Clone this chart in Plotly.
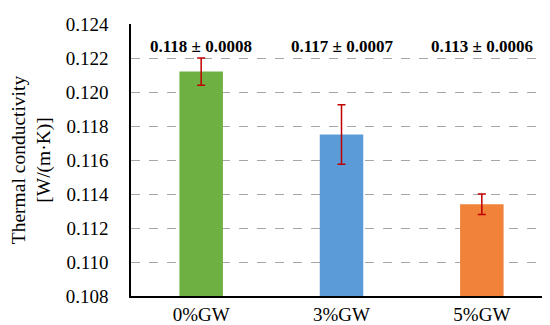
import plotly.graph_objects as go

categories = ["0%GW", "3%GW", "5%GW"]
values = [0.1212, 0.1175, 0.1134]
errors = [0.0008, 0.00175, 0.0006]
labels = ["0.118 ± 0.0008", "0.117 ± 0.0007", "0.113 ± 0.0006"]
colors = ["#6fb043", "#5b9bd8", "#f0823a"]
tick_vals = [0.108, 0.110, 0.112, 0.114, 0.116, 0.118, 0.120, 0.122, 0.124]

FONT = "Times New Roman, Liberation Serif, serif"

fig = go.Figure()
fig.add_trace(go.Bar(
    x=categories, y=values, width=0.31,
    marker=dict(color=colors, line=dict(width=0)),
    error_y=dict(type="data", array=errors, visible=True, color="#c00000", thickness=1.5, width=4),
))
for c, t in zip(categories, labels):
    fig.add_annotation(x=c, y=0.1227, text="<b>" + t + "</b>", showarrow=False,
                       font=dict(family=FONT, size=17, color="black"))

fig.update_layout(
    width=550, height=325,
    margin=dict(l=123, r=6, t=16, b=37),
    paper_bgcolor="white", plot_bgcolor="white",
    font=dict(family=FONT, size=19, color="black"),
    showlegend=False,
)
fig.update_xaxes(showline=True, linecolor="black", linewidth=1.5, ticks="",
                 tickfont=dict(family=FONT, size=19), automargin=False)
fig.update_yaxes(range=[0.108, 0.124], tickvals=tick_vals, tickformat=".3f",
                 showline=True, linecolor="black", linewidth=1.5,
                 showgrid=True, gridcolor="#a6a6a6", griddash="dash", gridwidth=1,
                 zeroline=False, ticks="", ticklen=0, tickfont=dict(family=FONT, size=19),
                 ticklabelstandoff=17, automargin=False,
                 title=dict(text="Thermal conductivity<br>[W/(m·K)]",
                            font=dict(family=FONT, size=19.5), standoff=14))
fig.write_html("out.html")
